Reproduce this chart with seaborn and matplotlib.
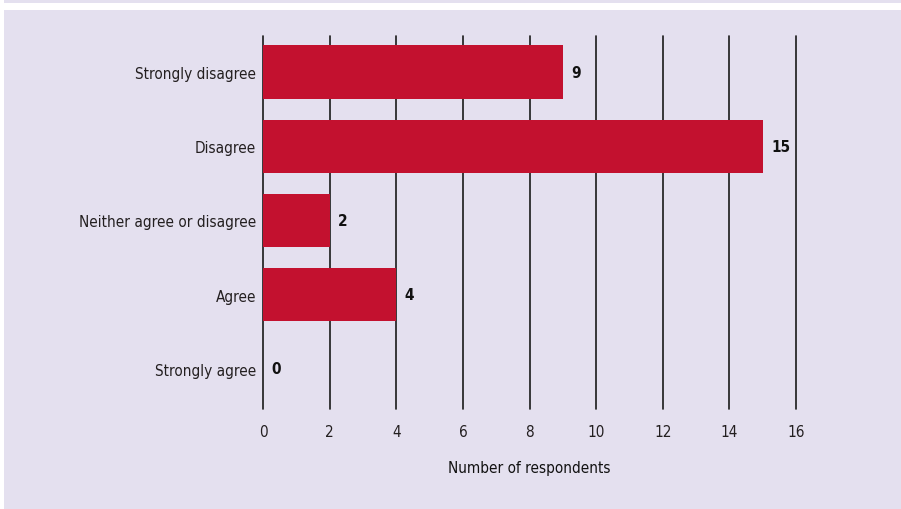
import matplotlib
matplotlib.use("Agg")
import matplotlib.pyplot as plt
import seaborn as sns
import pandas as pd
from matplotlib.patches import Rectangle

categories = ["Strongly disagree", "Disagree", "Neither agree or disagree", "Agree", "Strongly agree"]
respondents = [9, 15, 2, 4, 0]
x_ticks = [0, 2, 4, 6, 8, 10, 12, 14, 16]

panel_color = "#E4E0EF"
bar_color = "#C3112F"

sns.set_theme(style="white")
plt.rcParams["font.family"] = ["DejaVu Sans"]
plt.rcParams["font.stretch"] = "condensed"

df = pd.DataFrame({"category": categories, "respondents": respondents})

fig = plt.figure(figsize=(9.01, 5.10), dpi=100)
fig.patch.set_facecolor("white")

# background layer: lavender panel plus a thin strip along the top
bg = fig.add_axes([0, 0, 1, 1], zorder=-10)
bg.set_xlim(0, 901)
bg.set_ylim(510, 0)
bg.axis("off")
bg.add_patch(Rectangle((4, 11), 897, 499, facecolor=panel_color, edgecolor="none"))
bg.add_patch(Rectangle((4, 0), 897, 4, facecolor=panel_color, edgecolor="none"))

ax = fig.add_axes([263 / 901, 1 - 410 / 510, (796 - 263) / 901, (410 - 37) / 510], zorder=1)
ax.set_facecolor("none")

sns.barplot(data=df, x="respondents", y="category", orient="h", color=bar_color,
            saturation=1, width=0.715, linewidth=0, ax=ax, zorder=3)

ax.set_xlim(0, 16)
ax.set_ylim(4.54, -0.485)
ax.set_xticks(x_ticks)
ax.set_xticklabels([str(t) for t in x_ticks])
for t in x_ticks:
    ax.axvline(t, color="#1a1a1a", lw=1.2, zorder=1, clip_on=False)

for sp in ax.spines.values():
    sp.set_visible(False)
ax.tick_params(axis="both", length=0, labelsize=11, colors="#231F20")
ax.tick_params(axis="y", pad=5)
ax.tick_params(axis="x", pad=11)
ax.set_ylabel("")
ax.set_xlabel("Number of respondents", fontsize=11, color="#111111", labelpad=15)

for i, v in enumerate(respondents):
    ax.text(v + 0.25, i, str(v), va="center", ha="left", fontsize=11,
            fontweight="bold", color="#111111", zorder=4)

fig.savefig("out.png", dpi=100, facecolor=fig.get_facecolor())
